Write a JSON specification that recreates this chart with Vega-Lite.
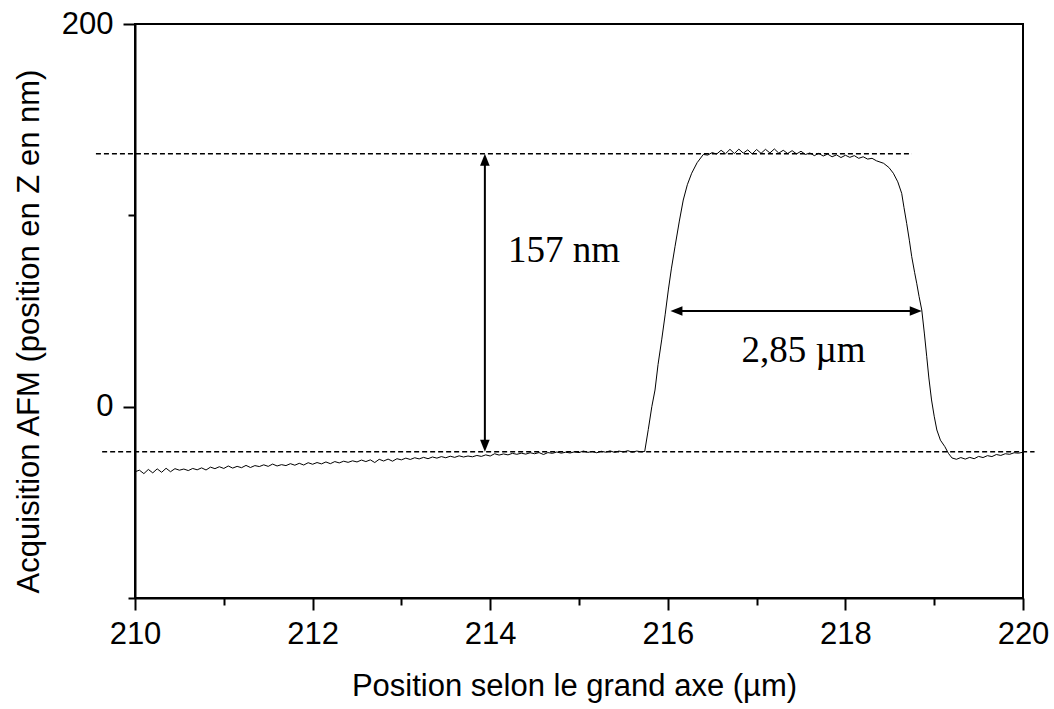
{
  "$schema": "https://vega.github.io/schema/vega-lite/v6.json",
  "width": 888,
  "height": 574,
  "autosize": "none",
  "padding": {"left": 135, "top": 24, "right": 31, "bottom": 111},
  "background": "white",
  "config": {
    "view": {"stroke": "black", "strokeWidth": 2},
    "axis": {
      "domainColor": "black", "domainWidth": 2,
      "tickColor": "black", "tickWidth": 2,
      "labelFont": "Liberation Sans", "labelFontSize": 31, "labelColor": "black",
      "titleFont": "Liberation Sans", "titleFontSize": 31, "titleFontWeight": "normal", "titleColor": "black",
      "grid": false
    }
  },
  "datasets": {
    "profile": [
      {"x":210.00,"y":-34.0},{"x":210.05,"y":-33.2},{"x":210.10,"y":-35.0},{"x":210.15,"y":-32.8},{"x":210.20,"y":-34.6},
      {"x":210.25,"y":-32.5},{"x":210.30,"y":-34.3},{"x":210.35,"y":-32.2},{"x":210.40,"y":-34.0},{"x":210.45,"y":-32.4},
      {"x":210.50,"y":-33.2},{"x":210.55,"y":-32.6},{"x":210.60,"y":-33.4},{"x":210.65,"y":-32.3},{"x":210.70,"y":-33.0},
      {"x":210.75,"y":-32.0},{"x":210.80,"y":-33.1},{"x":210.85,"y":-31.6},{"x":210.90,"y":-32.4},{"x":210.95,"y":-31.4},
      {"x":211.00,"y":-32.3},{"x":211.05,"y":-31.0},{"x":211.10,"y":-32.1},{"x":211.15,"y":-31.2},{"x":211.20,"y":-31.9},
      {"x":211.25,"y":-30.7},{"x":211.30,"y":-31.8},{"x":211.35,"y":-30.8},{"x":211.40,"y":-31.3},{"x":211.45,"y":-30.4},
      {"x":211.50,"y":-31.2},{"x":211.55,"y":-30.0},{"x":211.60,"y":-31.0},{"x":211.65,"y":-30.3},{"x":211.70,"y":-30.8},
      {"x":211.75,"y":-29.8},{"x":211.80,"y":-30.6},{"x":211.85,"y":-29.6},{"x":211.90,"y":-30.5},{"x":211.95,"y":-29.3},
      {"x":212.00,"y":-30.1},{"x":212.05,"y":-29.2},{"x":212.10,"y":-29.9},{"x":212.15,"y":-28.9},{"x":212.20,"y":-29.8},
      {"x":212.25,"y":-28.7},{"x":212.30,"y":-29.4},{"x":212.35,"y":-28.5},{"x":212.40,"y":-29.1},{"x":212.45,"y":-28.3},
      {"x":212.50,"y":-28.9},{"x":212.55,"y":-27.9},{"x":212.60,"y":-28.7},{"x":212.65,"y":-27.8},{"x":212.70,"y":-29.2},
      {"x":212.75,"y":-27.5},{"x":212.80,"y":-28.4},{"x":212.85,"y":-27.4},{"x":212.90,"y":-28.5},{"x":212.95,"y":-27.2},
      {"x":213.00,"y":-27.8},{"x":213.05,"y":-26.9},{"x":213.10,"y":-27.6},{"x":213.15,"y":-26.7},{"x":213.20,"y":-27.3},
      {"x":213.25,"y":-26.5},{"x":213.30,"y":-27.2},{"x":213.35,"y":-26.3},{"x":213.40,"y":-26.9},{"x":213.45,"y":-26.1},
      {"x":213.50,"y":-26.7},{"x":213.55,"y":-25.9},{"x":213.60,"y":-26.5},{"x":213.65,"y":-25.7},{"x":213.70,"y":-26.3},
      {"x":213.75,"y":-25.8},{"x":213.80,"y":-26.2},{"x":213.85,"y":-25.5},{"x":213.90,"y":-26.0},{"x":213.95,"y":-25.2},
      {"x":214.00,"y":-25.8},{"x":214.05,"y":-24.6},{"x":214.10,"y":-25.3},{"x":214.15,"y":-24.7},{"x":214.20,"y":-25.2},
      {"x":214.25,"y":-24.4},{"x":214.30,"y":-24.9},{"x":214.35,"y":-24.3},{"x":214.40,"y":-24.8},{"x":214.45,"y":-24.1},
      {"x":214.50,"y":-24.6},{"x":214.55,"y":-24.0},{"x":214.60,"y":-25.0},{"x":214.65,"y":-24.0},{"x":214.70,"y":-24.4},
      {"x":214.75,"y":-23.7},{"x":214.80,"y":-24.3},{"x":214.85,"y":-23.8},{"x":214.90,"y":-24.2},{"x":214.95,"y":-23.6},
      {"x":215.00,"y":-24.0},{"x":215.05,"y":-23.2},{"x":215.10,"y":-23.9},{"x":215.15,"y":-23.4},{"x":215.20,"y":-24.1},
      {"x":215.25,"y":-23.3},{"x":215.30,"y":-23.8},{"x":215.35,"y":-23.1},{"x":215.40,"y":-23.9},{"x":215.45,"y":-23.2},
      {"x":215.50,"y":-23.7},{"x":215.55,"y":-23.0},{"x":215.60,"y":-23.8},{"x":215.65,"y":-23.2},{"x":215.70,"y":-23.6},
      {"x":215.74,"y":-23.4},{"x":215.78,"y":-12.0},{"x":215.82,"y":0.0},{"x":215.856,"y":8.7},{"x":215.89,"y":22.0},
      {"x":215.931,"y":34.9},{"x":215.97,"y":48.0},{"x":216.006,"y":61.0},{"x":216.04,"y":72.0},{"x":216.081,"y":83.6},
      {"x":216.13,"y":97.0},{"x":216.174,"y":108.0},{"x":216.22,"y":116.0},{"x":216.269,"y":122.0},{"x":216.33,"y":127.5},
      {"x":216.40,"y":131.8},{"x":216.45,"y":131.5},{"x":216.50,"y":132.8},{"x":216.55,"y":132.0},{"x":216.60,"y":134.0},
      {"x":216.65,"y":132.2},{"x":216.70,"y":134.5},{"x":216.75,"y":132.3},{"x":216.80,"y":134.6},{"x":216.85,"y":132.5},
      {"x":216.90,"y":134.2},{"x":216.95,"y":132.1},{"x":217.00,"y":134.4},{"x":217.05,"y":132.4},{"x":217.10,"y":134.5},
      {"x":217.15,"y":132.6},{"x":217.20,"y":134.7},{"x":217.25,"y":132.5},{"x":217.30,"y":134.0},{"x":217.35,"y":132.3},
      {"x":217.40,"y":133.8},{"x":217.45,"y":132.1},{"x":217.50,"y":133.5},{"x":217.55,"y":131.8},{"x":217.60,"y":132.6},
      {"x":217.65,"y":131.2},{"x":217.70,"y":132.4},{"x":217.75,"y":131.0},{"x":217.80,"y":132.0},{"x":217.85,"y":130.6},
      {"x":217.90,"y":131.6},{"x":217.95,"y":130.2},{"x":218.00,"y":131.4},{"x":218.05,"y":130.3},{"x":218.10,"y":131.2},
      {"x":218.15,"y":129.8},{"x":218.20,"y":130.6},{"x":218.25,"y":129.4},{"x":218.30,"y":129.8},{"x":218.35,"y":128.5},
      {"x":218.43,"y":127.2},{"x":218.49,"y":125.0},{"x":218.54,"y":122.0},{"x":218.59,"y":117.5},{"x":218.634,"y":111.5},
      {"x":218.66,"y":104.0},{"x":218.69,"y":95.8},{"x":218.72,"y":87.0},{"x":218.747,"y":78.4},{"x":218.78,"y":70.0},
      {"x":218.803,"y":64.5},{"x":218.83,"y":57.5},{"x":218.86,"y":50.5},{"x":218.89,"y":38.0},{"x":218.916,"y":26.1},
      {"x":218.94,"y":15.0},{"x":218.97,"y":3.5},{"x":219.00,"y":-5.0},{"x":219.03,"y":-12.2},{"x":219.07,"y":-17.5},
      {"x":219.12,"y":-20.9},{"x":219.16,"y":-24.4},{"x":219.20,"y":-26.8},{"x":219.25,"y":-27.5},{"x":219.30,"y":-26.6},
      {"x":219.35,"y":-27.4},{"x":219.40,"y":-26.5},{"x":219.45,"y":-27.2},{"x":219.50,"y":-26.0},{"x":219.55,"y":-26.6},
      {"x":219.60,"y":-25.6},{"x":219.65,"y":-26.1},{"x":219.70,"y":-25.0},{"x":219.75,"y":-25.5},{"x":219.80,"y":-24.6},
      {"x":219.85,"y":-24.9},{"x":219.90,"y":-24.1},{"x":219.95,"y":-24.3},{"x":220.00,"y":-23.8}
    ],
    "dashed": [
      {"x":209.56,"x2":218.75,"y":132.2},
      {"x":209.63,"x2":220.13,"y":-23.6}
    ],
    "shafts": [
      {"x":213.94,"x2":213.94,"y":129.0,"y2":-20.5},
      {"x":216.1,"x2":218.79,"y":50.0,"y2":50.0}
    ],
    "heads": [
      {"x":213.94,"y":132.2,"dir":"up"},
      {"x":213.94,"y":-23.6,"dir":"down"},
      {"x":216.03,"y":50.0,"dir":"left"},
      {"x":218.86,"y":50.0,"dir":"right"}
    ],
    "labels": [
      {"x":214.2,"y":75.8,"text":"157 nm"},
      {"x":216.83,"y":23.5,"text":"2,85 µm"}
    ]
  },
  "layer": [
    {
      "data": {"name": "profile"},
      "mark": {"type": "line", "color": "black", "strokeWidth": 1},
      "encoding": {
        "x": {"field": "x", "type": "quantitative",
          "scale": {"domain": [210, 220], "nice": false, "zero": false},
          "axis": {
            "title": "Position selon le grand axe (µm)",
            "values": [210,211,212,213,214,215,216,217,218,219,220],
            "format": "d",
            "labelExpr": "datum.value % 2 === 0 ? datum.label : ''",
            "tickSize": {"condition": {"test": "datum.value % 2 === 0", "value": 12}, "value": 7},
            "labelBaseline": "alphabetic",
            "labelPadding": 33,
            "labelFlush": false,
            "labelOverlap": false,
            "titleX": 439, "titleY": 97, "titleAlign": "center", "titleBaseline": "alphabetic"
          }
        },
        "y": {"field": "y", "type": "quantitative",
          "scale": {"domain": [-100, 200], "nice": false, "zero": false},
          "axis": {
            "title": "Acquisition AFM (position en Z en nm)",
            "values": [-100, 0, 100, 200],
            "format": "d",
            "labelExpr": "datum.value % 200 === 0 ? datum.label : ''",
            "tickSize": {"condition": {"test": "datum.value % 200 === 0", "value": 12}, "value": 7},
            "labelPadding": 10,
            "labelFlush": false,
            "labelOverlap": false,
            "titleAngle": -90, "titleX": -97, "titleY": 307, "titleAlign": "center", "titleBaseline": "alphabetic"
          }
        }
      }
    },
    {
      "data": {"name": "dashed"},
      "mark": {"type": "rule", "color": "black", "strokeWidth": 1.5, "strokeDash": [5, 3]},
      "encoding": {
        "x": {"field": "x", "type": "quantitative", "scale": {"domain": [210, 220], "nice": false, "zero": false}},
        "x2": {"field": "x2"},
        "y": {"field": "y", "type": "quantitative", "scale": {"domain": [-100, 200], "nice": false, "zero": false}}
      }
    },
    {
      "data": {"name": "shafts"},
      "mark": {"type": "rule", "color": "black", "strokeWidth": 2},
      "encoding": {
        "x": {"field": "x", "type": "quantitative", "scale": {"domain": [210, 220], "nice": false, "zero": false}},
        "x2": {"field": "x2"},
        "y": {"field": "y", "type": "quantitative", "scale": {"domain": [-100, 200], "nice": false, "zero": false}},
        "y2": {"field": "y2"}
      }
    },
    {
      "data": {"name": "heads"},
      "mark": {"type": "point", "filled": true, "color": "black", "opacity": 1, "size": 576, "strokeWidth": 0},
      "encoding": {
        "x": {"field": "x", "type": "quantitative", "scale": {"domain": [210, 220], "nice": false, "zero": false}},
        "y": {"field": "y", "type": "quantitative", "scale": {"domain": [-100, 200], "nice": false, "zero": false}},
        "shape": {"field": "dir", "type": "nominal", "legend": null,
          "scale": {"domain": ["up", "down", "left", "right"],
            "range": ["M0,0L-0.4,1L0.4,1Z", "M0,0L-0.4,-1L0.4,-1Z", "M0,0L1,-0.4L1,0.4Z", "M0,0L-1,-0.4L-1,0.4Z"]}}
      }
    },
    {
      "data": {"name": "labels"},
      "mark": {"type": "text", "font": "Liberation Serif", "fontSize": 37, "align": "left", "baseline": "alphabetic", "color": "black"},
      "encoding": {
        "x": {"field": "x", "type": "quantitative", "scale": {"domain": [210, 220], "nice": false, "zero": false}},
        "y": {"field": "y", "type": "quantitative", "scale": {"domain": [-100, 200], "nice": false, "zero": false}},
        "text": {"field": "text"}
      }
    }
  ]
}
